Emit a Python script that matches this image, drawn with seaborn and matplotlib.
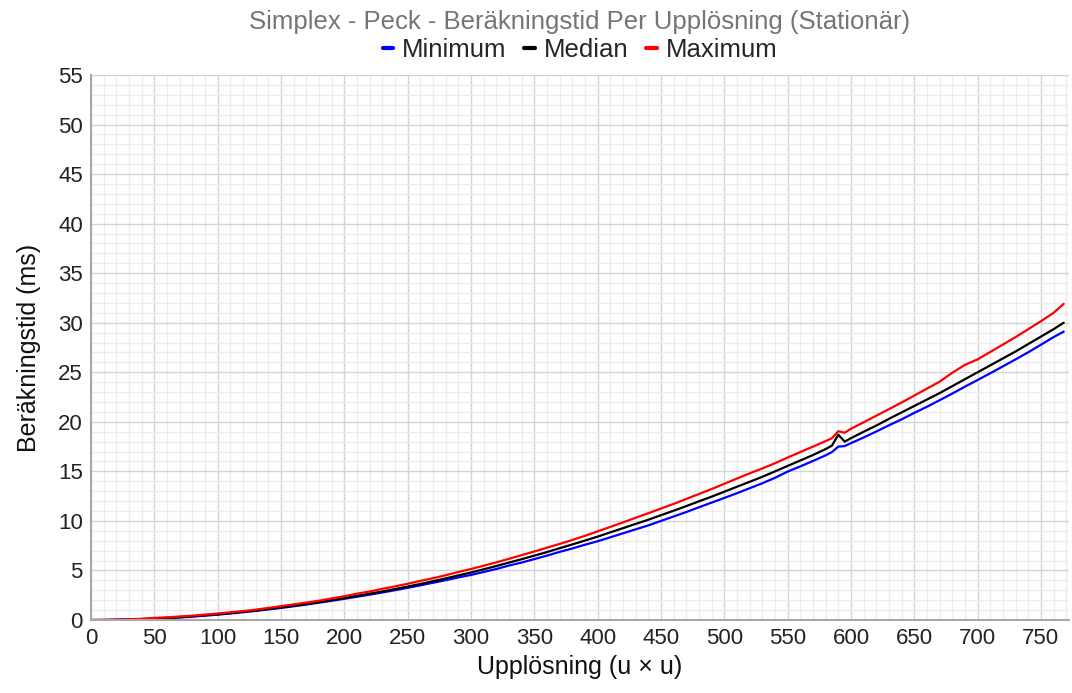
import matplotlib
matplotlib.use("Agg")
import matplotlib.pyplot as plt
from matplotlib.ticker import MultipleLocator
from matplotlib.lines import Line2D
import seaborn as sns
import pandas as pd

# ---- data ----
resolution = [0, 10, 20, 30, 40, 50, 60, 70, 80, 90,
              100, 110, 120, 130, 140, 150, 160, 170, 180, 190,
              200, 210, 220, 230, 240, 250, 260, 270, 280, 290,
              300, 310, 320, 330, 340, 350, 360, 370, 380, 390,
              400, 410, 420, 430, 440, 450, 460, 470, 480, 490,
              500, 510, 520, 530, 540, 550, 560, 570, 580, 585,
              590, 595, 600, 610, 620, 630, 640, 650, 660, 670,
              680, 690, 700, 710, 720, 730, 740, 750, 760, 768]

minimum = [0.00, 0.00, 0.02, 0.04, 0.07, 0.12, 0.18, 0.25, 0.34, 0.44,
           0.54, 0.66, 0.79, 0.92, 1.07, 1.22, 1.39, 1.56, 1.75, 1.94,
           2.14, 2.35, 2.56, 2.78, 3.01, 3.25, 3.50, 3.76, 4.02, 4.30,
           4.55, 4.85, 5.15, 5.50, 5.80, 6.15, 6.50, 6.88, 7.22, 7.60,
           7.95, 8.35, 8.75, 9.15, 9.55, 10.00, 10.45, 10.90, 11.38, 11.85,
           12.32, 12.80, 13.30, 13.80, 14.35, 14.98, 15.50, 16.05, 16.62, 16.95,
           17.50, 17.55, 17.85, 18.42, 19.02, 19.65, 20.25, 20.90, 21.52, 22.18,
           22.85, 23.55, 24.22, 24.90, 25.60, 26.30, 27.02, 27.78, 28.55, 29.10]

median = [0.00, 0.01, 0.03, 0.06, 0.10, 0.15, 0.22, 0.29, 0.38, 0.48,
          0.58, 0.70, 0.83, 0.96, 1.12, 1.27, 1.45, 1.62, 1.81, 2.01,
          2.22, 2.44, 2.66, 2.88, 3.13, 3.38, 3.64, 3.92, 4.20, 4.50,
          4.80, 5.12, 5.45, 5.80, 6.14, 6.50, 6.86, 7.25, 7.63, 8.02,
          8.42, 8.85, 9.27, 9.70, 10.12, 10.58, 11.03, 11.50, 11.98, 12.45,
          12.95, 13.45, 13.95, 14.45, 15.00, 15.55, 16.10, 16.65, 17.25, 17.60,
          18.70, 18.00, 18.35, 19.00, 19.62, 20.30, 20.95, 21.60, 22.25, 22.90,
          23.60, 24.30, 25.00, 25.70, 26.40, 27.10, 27.85, 28.60, 29.35, 30.00]

maximum = [0.00, 0.01, 0.04, 0.08, 0.12, 0.22, 0.27, 0.36, 0.44, 0.55,
           0.66, 0.78, 0.90, 1.05, 1.22, 1.40, 1.58, 1.76, 1.95, 2.18,
           2.40, 2.66, 2.88, 3.15, 3.40, 3.66, 3.95, 4.22, 4.52, 4.85,
           5.15, 5.48, 5.82, 6.18, 6.55, 6.92, 7.30, 7.68, 8.08, 8.50,
           8.95, 9.40, 9.85, 10.32, 10.78, 11.25, 11.72, 12.22, 12.72, 13.22,
           13.75, 14.28, 14.80, 15.30, 15.82, 16.40, 16.95, 17.50, 18.05, 18.35,
           19.05, 18.90, 19.30, 19.95, 20.62, 21.28, 21.95, 22.65, 23.35, 24.05,
           24.95, 25.75, 26.30, 27.05, 27.80, 28.55, 29.35, 30.15, 31.00, 31.90]

series_names = ["Minimum", "Median", "Maximum"]
series_colors = ["#0000ff", "#000000", "#ff0000"]

title_text = "Simplex - Peck - Beräkningstid Per Upplösning (Stationär)"
x_label = "Upplösning (u × u)"
y_label = "Beräkningstid (ms)"

# ---- build long-form table ----
frames = []
for name, vals in zip(series_names, [minimum, median, maximum]):
    frames.append(pd.DataFrame({"x": resolution, "y": vals, "series": name}))
df = pd.concat(frames, ignore_index=True)

sns.set_theme(style="white")
plt.rcParams["font.family"] = ["Liberation Sans", "DejaVu Sans"]

fig = plt.figure(figsize=(10.72, 6.93), dpi=100)
ax_left, ax_width = 0.085, 0.912
ax = fig.add_axes([ax_left, 0.1053, ax_width, 0.7865])
center_x = ax_left + ax_width / 2

sns.lineplot(data=df, x="x", y="y", hue="series", hue_order=series_names,
             palette=dict(zip(series_names, series_colors)),
             linewidth=1.6, ax=ax, legend=False, estimator=None, sort=False)

ax.set_xlim(0, 772)
ax.set_ylim(0, 55)
ax.xaxis.set_major_locator(MultipleLocator(50))
ax.xaxis.set_minor_locator(MultipleLocator(10))
ax.yaxis.set_major_locator(MultipleLocator(5))
ax.yaxis.set_minor_locator(MultipleLocator(1))
ax.grid(which="major", color="#d4d4d4", linewidth=1.0)
ax.grid(which="minor", color="#ececec", linewidth=1.0)
ax.set_axisbelow(True)
ax.tick_params(which="both", length=0, labelsize=16, colors="#222222", pad=6)

for s in ["top", "right"]:
    ax.spines[s].set_visible(False)
for s in ["left", "bottom"]:
    ax.spines[s].set_color("#a8a8a8")
    ax.spines[s].set_linewidth(1.5)

ax.set_xlabel(x_label, fontsize=18, color="#111111", labelpad=4)
ax.set_ylabel(y_label, fontsize=18, color="#111111", labelpad=12)

fig.text(center_x, 0.968, title_text, ha="center", va="center",
         fontsize=18.5, color="#757575")

handles = [Line2D([0], [0], color=c, linewidth=3) for c in series_colors]
fig.legend(handles, series_names, loc="center", bbox_to_anchor=(center_x, 0.928),
           ncol=3, frameon=False, fontsize=18.5, handlelength=0.4,
           handletextpad=0.35, columnspacing=0.7, borderaxespad=0)

fig.savefig("out.png", dpi=100)
